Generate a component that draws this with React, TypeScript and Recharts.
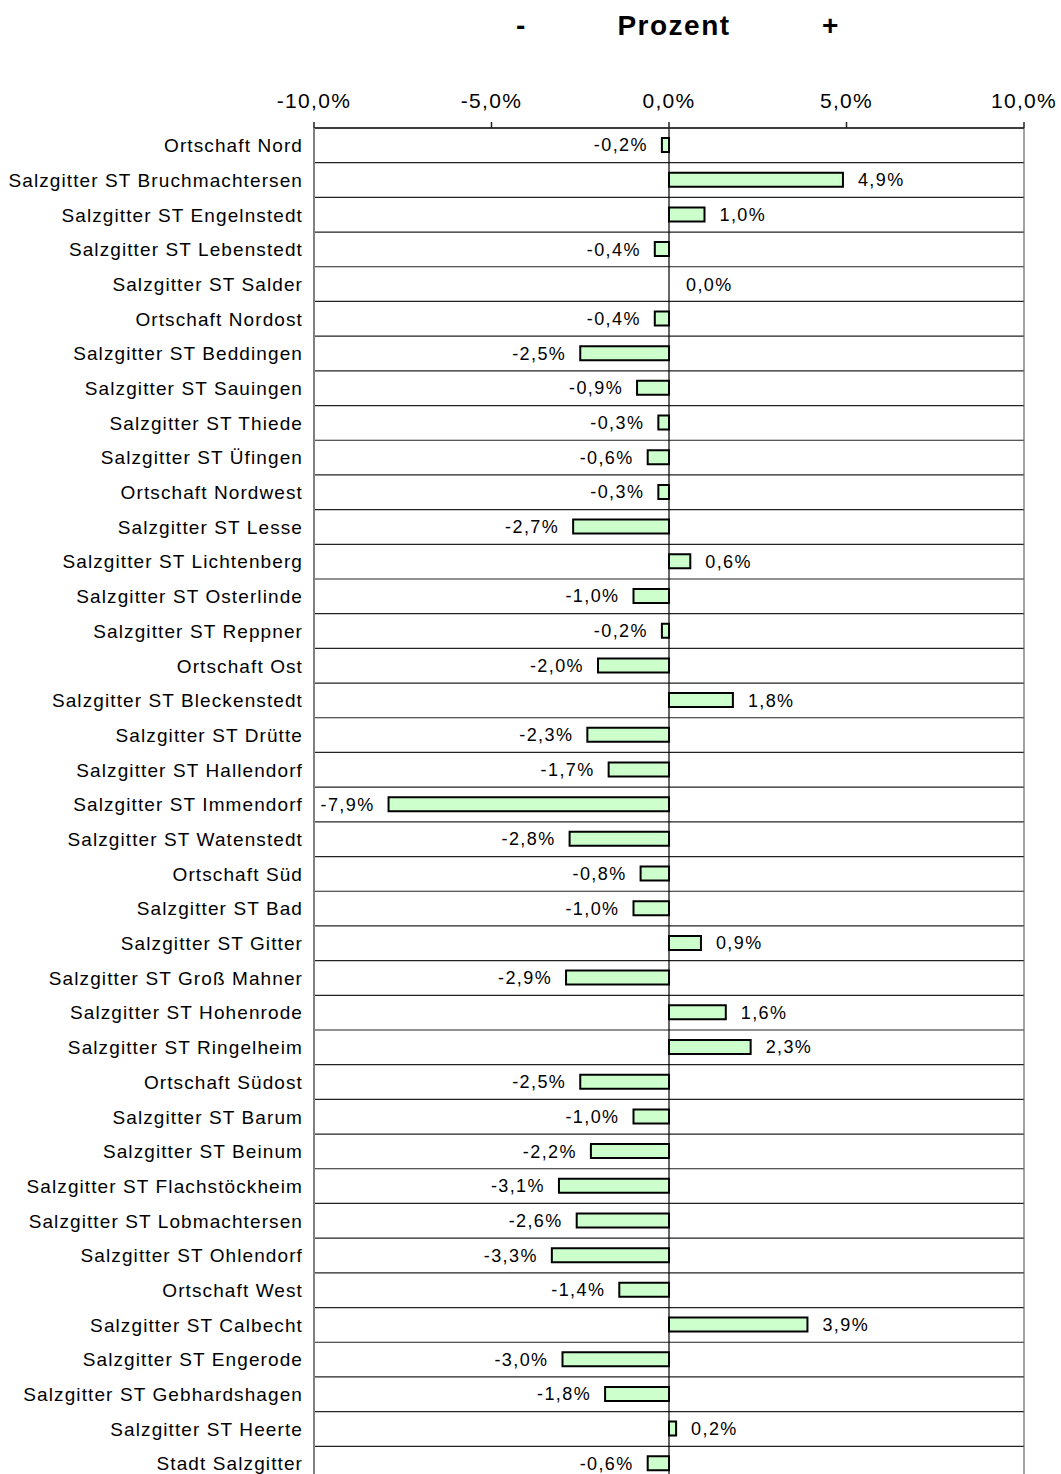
import React from "react";
import {
  BarChart,
  Bar,
  XAxis,
  YAxis,
  CartesianGrid,
  ReferenceLine,
  LabelList,
  Rectangle,
} from "recharts";

const categories: string[] = [
  "Ortschaft Nord",
  "Salzgitter ST Bruchmachtersen",
  "Salzgitter ST Engelnstedt",
  "Salzgitter ST Lebenstedt",
  "Salzgitter ST Salder",
  "Ortschaft Nordost",
  "Salzgitter ST Beddingen",
  "Salzgitter ST Sauingen",
  "Salzgitter ST Thiede",
  "Salzgitter ST Üfingen",
  "Ortschaft Nordwest",
  "Salzgitter ST Lesse",
  "Salzgitter ST Lichtenberg",
  "Salzgitter ST Osterlinde",
  "Salzgitter ST Reppner",
  "Ortschaft Ost",
  "Salzgitter ST Bleckenstedt",
  "Salzgitter ST Drütte",
  "Salzgitter ST Hallendorf",
  "Salzgitter ST Immendorf",
  "Salzgitter ST Watenstedt",
  "Ortschaft Süd",
  "Salzgitter ST Bad",
  "Salzgitter ST Gitter",
  "Salzgitter ST Groß Mahner",
  "Salzgitter ST Hohenrode",
  "Salzgitter ST Ringelheim",
  "Ortschaft Südost",
  "Salzgitter ST Barum",
  "Salzgitter ST Beinum",
  "Salzgitter ST Flachstöckheim",
  "Salzgitter ST Lobmachtersen",
  "Salzgitter ST Ohlendorf",
  "Ortschaft West",
  "Salzgitter ST Calbecht",
  "Salzgitter ST Engerode",
  "Salzgitter ST Gebhardshagen",
  "Salzgitter ST Heerte",
  "Stadt Salzgitter",
];

const values: number[] = [
  -0.2, 4.9, 1.0, -0.4, 0.0, -0.4, -2.5, -0.9, -0.3, -0.6, -0.3, -2.7, 0.6,
  -1.0, -0.2, -2.0, 1.8, -2.3, -1.7, -7.9, -2.8, -0.8, -1.0, 0.9, -2.9, 1.6,
  2.3, -2.5, -1.0, -2.2, -3.1, -2.6, -3.3, -1.4, 3.9, -3.0, -1.8, 0.2, -0.6,
];

const xTicks: number[] = [-10, -5, 0, 5, 10];

const data = categories.map((name, i) => ({ name, value: values[i] }));

const FONT = "'Liberation Sans', Arial, sans-serif";

const fmt = (v: number) => v.toFixed(1).replace(".", ",") + "%";

const XTick = (props: any) => {
  const { x, y, payload } = props;
  return (
    <text
      x={x}
      y={y - 12}
      textAnchor="middle"
      fontFamily={FONT}
      fontSize={21}
      letterSpacing={1.3}
      fill="#000"
    >
      {fmt(payload.value)}
    </text>
  );
};

const YTick = (props: any) => {
  const { x, y, payload } = props;
  return (
    <text
      x={x}
      y={y}
      dy="0.36em"
      textAnchor="end"
      fontFamily={FONT}
      fontSize={19}
      letterSpacing={1.1}
      fill="#000"
    >
      {payload.value}
    </text>
  );
};

const ValueLabel = (props: any) => {
  const { x, y, width, height, value } = props;
  const xs = Number(x);
  const w = Number(width);
  const left = Math.min(xs, xs + w);
  const right = Math.max(xs, xs + w);
  const cy = Number(y) + Number(height) / 2;
  const neg = value < 0;
  const isZero = value === 0;
  return (
    <text
      x={neg ? left - 14 : right + (isZero ? 17 : 15)}
      y={cy + (isZero ? 1 : 0)}
      dy="0.36em"
      textAnchor={neg ? "end" : "start"}
      fontFamily={FONT}
      fontSize={18}
      letterSpacing={1.4}
      fill="#000"
    >
      {fmt(value)}
    </text>
  );
};

const BarShape = (props: any) => {
  if (Math.abs(Number(props.width)) < 0.5) return <g />;
  return <Rectangle {...props} />;
};

const rows = categories.length;

export default function App() {
  return (
    <div
      style={{
        position: "fixed",
        top: 0,
        left: 0,
        width: 1061,
        height: 1474,
        overflow: "hidden",
        background: "#fff",
      }}
    >
      <div
        style={{
          position: "absolute",
          top: 0,
          left: 0,
          width: 1061,
          height: 50,
          fontFamily: FONT,
          fontWeight: "bold",
          fontSize: 28,
          color: "#000",
        }}
      >
        <span style={{ position: "absolute", left: 516, top: 10 }}>-</span>
        <span
          style={{
            position: "absolute",
            left: 674,
            top: 10,
            transform: "translateX(-50%)",
            letterSpacing: 1.5,
          }}
        >
          Prozent
        </span>
        <span style={{ position: "absolute", left: 822, top: 10 }}>+</span>
      </div>
      <BarChart
        width={1061}
        height={1486}
        data={data}
        layout="vertical"
        margin={{ top: 98, right: 37, bottom: 5, left: 8 }}
      >
        <CartesianGrid
          vertical={false}
          stroke="#222"
          strokeWidth={1.2}
          horizontalCoordinatesGenerator={(p: any) => {
            const off = p.offset || {};
            const top = off.top ?? 128;
            const h = off.height ?? p.height - off.top - off.bottom;
            const out: number[] = [];
            for (let i = 0; i <= rows; i++) out.push(top + (i * h) / rows);
            return out;
          }}
        />
        <XAxis
          type="number"
          orientation="top"
          domain={[-10, 10]}
          ticks={xTicks}
          height={30}
          tick={<XTick />}
          tickSize={6}
          axisLine={{ stroke: "#222", strokeWidth: 1.5 }}
          tickLine={{ stroke: "#222", strokeWidth: 1.5 }}
          interval={0}
        />
        <YAxis
          type="category"
          dataKey="name"
          width={306}
          tick={<YTick />}
          tickLine={false}
          tickSize={0}
          tickMargin={11}
          axisLine={{ stroke: "#808080", strokeWidth: 2 }}
          interval={0}
        />
        <ReferenceLine x={0} stroke="#000" strokeWidth={1.2} />
        <ReferenceLine x={10} stroke="#666" strokeWidth={1.2} />
        <Bar
          dataKey="value"
          fill="#CCFFCC"
          stroke="#000"
          strokeWidth={2}
          barSize={14}
          minPointSize={(v: number) => (v === 0 ? 0.01 : 0)}
          shape={<BarShape />}
          isAnimationActive={false}
        >
          <LabelList dataKey="value" content={<ValueLabel />} />
        </Bar>
      </BarChart>
    </div>
  );
}
